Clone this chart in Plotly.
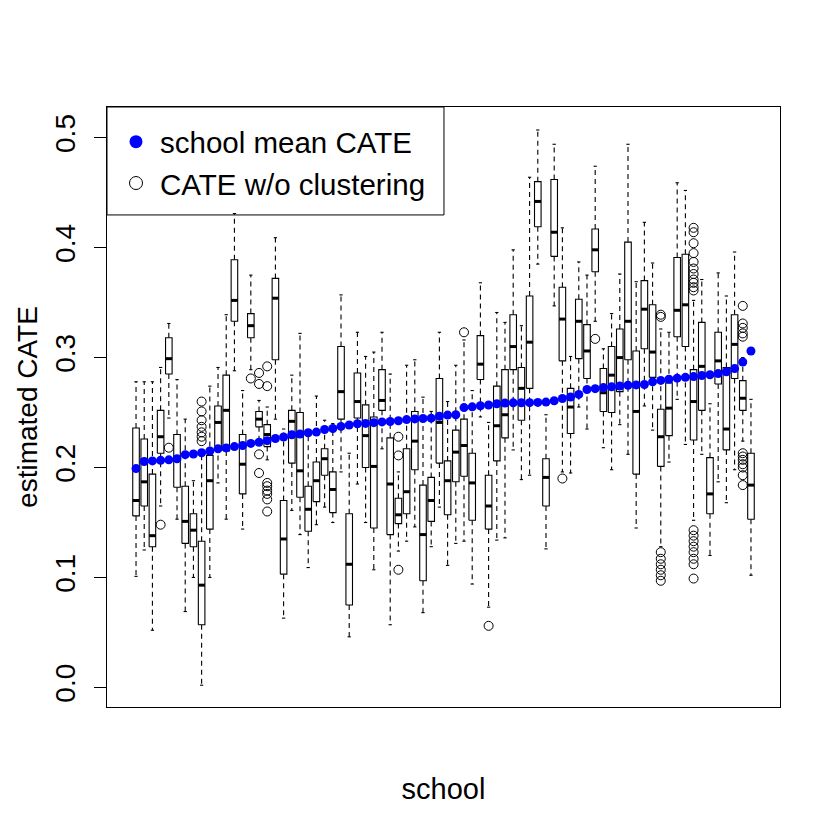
import plotly.graph_objects as go

# ---- data ----
school_ids = list(range(1, 77))

whisker_low = [0.101, 0.125, 0.052, 0.165, 0.245, 0.153, 0.069, 0.100, 0.002, 0.100,
               0.186, 0.153, 0.288, 0.144, 0.289, 0.225, 0.207, 0.244, 0.063, 0.161,
               0.139, 0.109, 0.148, 0.164, 0.150, 0.196, 0.046, 0.185, 0.150, 0.107,
               0.217, 0.057, 0.124, 0.133, 0.146, 0.068, 0.128, 0.164, 0.111, 0.131,
               0.133, 0.094, 0.246, 0.073, 0.134, 0.136, 0.216, 0.189, 0.193, 0.385,
               0.126, 0.347, 0.196, 0.195, 0.255, 0.235, 0.333, 0.218, 0.198, 0.239,
               0.212, 0.145, 0.256, 0.234, 0.128, 0.205, 0.262, 0.221, 0.152, 0.212,
               0.120, 0.187, 0.168, 0.198, 0.224, 0.102]
q1 = [0.156, 0.165, 0.128, 0.213, 0.285, 0.182, 0.131, 0.128, 0.057, 0.144,
      0.219, 0.215, 0.333, 0.176, 0.318, 0.237, 0.219, 0.298, 0.103, 0.204,
      0.173, 0.142, 0.169, 0.193, 0.159, 0.244, 0.075, 0.245, 0.200, 0.145,
      0.252, 0.139, 0.149, 0.158, 0.198, 0.097, 0.151, 0.204, 0.157, 0.187,
      0.192, 0.152, 0.280, 0.144, 0.206, 0.227, 0.289, 0.243, 0.272, 0.419,
      0.165, 0.392, 0.297, 0.231, 0.299, 0.281, 0.378, 0.251, 0.250, 0.269,
      0.298, 0.194, 0.308, 0.282, 0.201, 0.229, 0.319, 0.310, 0.225, 0.252,
      0.158, 0.276, 0.216, 0.281, 0.252, 0.153]
median = [0.170, 0.187, 0.138, 0.228, 0.299, 0.208, 0.151, 0.143, 0.093, 0.188,
          0.241, 0.252, 0.352, 0.203, 0.329, 0.244, 0.230, 0.354, 0.135, 0.242,
          0.197, 0.162, 0.188, 0.208, 0.180, 0.269, 0.112, 0.260, 0.229, 0.201,
          0.261, 0.185, 0.157, 0.178, 0.224, 0.139, 0.170, 0.241, 0.188, 0.214,
          0.220, 0.186, 0.294, 0.165, 0.238, 0.248, 0.310, 0.272, 0.314, 0.442,
          0.191, 0.414, 0.335, 0.255, 0.333, 0.306, 0.398, 0.268, 0.284, 0.300,
          0.333, 0.251, 0.344, 0.305, 0.228, 0.254, 0.343, 0.348, 0.260, 0.292,
          0.176, 0.297, 0.235, 0.312, 0.263, 0.184]
q3 = [0.236, 0.226, 0.194, 0.252, 0.318, 0.230, 0.183, 0.158, 0.133, 0.211,
      0.256, 0.284, 0.389, 0.230, 0.340, 0.251, 0.239, 0.372, 0.170, 0.252,
      0.250, 0.183, 0.205, 0.217, 0.196, 0.310, 0.158, 0.286, 0.257, 0.246,
      0.289, 0.227, 0.172, 0.217, 0.251, 0.184, 0.191, 0.281, 0.206, 0.234,
      0.244, 0.213, 0.320, 0.193, 0.274, 0.289, 0.339, 0.291, 0.356, 0.460,
      0.208, 0.462, 0.364, 0.272, 0.353, 0.330, 0.417, 0.290, 0.310, 0.326,
      0.405, 0.306, 0.370, 0.348, 0.253, 0.277, 0.391, 0.394, 0.289, 0.332,
      0.209, 0.323, 0.291, 0.339, 0.279, 0.213]
whisker_high = [0.278, 0.278, 0.278, 0.291, 0.331, 0.280, 0.244, 0.188, 0.212, 0.274,
                0.291, 0.339, 0.431, 0.270, 0.375, 0.261, 0.255, 0.409, 0.235, 0.284,
                0.322, 0.230, 0.265, 0.243, 0.240, 0.357, 0.213, 0.323, 0.301, 0.305,
                0.323, 0.285, 0.196, 0.293, 0.298, 0.264, 0.251, 0.323, 0.260, 0.293,
                0.316, 0.270, 0.368, 0.241, 0.341, 0.332, 0.398, 0.329, 0.464, 0.507,
                0.248, 0.494, 0.418, 0.301, 0.387, 0.375, 0.474, 0.308, 0.340, 0.376,
                0.494, 0.369, 0.423, 0.386, 0.326, 0.323, 0.459, 0.452, 0.352, 0.371,
                0.258, 0.377, 0.356, 0.396, 0.300, 0.262]

# outliers ("CATE w/o clustering" beyond the whiskers), keyed by school position
outliers = {
    4: [0.148],
    5: [0.218],
    9: [0.224, 0.228, 0.232, 0.237, 0.243, 0.251, 0.260],
    15: [0.281],
    16: [0.286, 0.276, 0.212, 0.195],
    17: [0.292, 0.274, 0.186, 0.183, 0.179, 0.176, 0.171, 0.160],
    33: [0.228, 0.211, 0.107],
    41: [0.323],
    44: [0.056],
    53: [0.190],
    57: [0.317],
    65: [0.337, 0.339, 0.123, 0.117, 0.112, 0.107, 0.102, 0.097],
    69: [0.418, 0.414, 0.404, 0.395, 0.387, 0.381, 0.376, 0.371, 0.368, 0.364, 0.361,
         0.143, 0.138, 0.133, 0.128, 0.123, 0.117, 0.112, 0.099],
    75: [0.347, 0.331, 0.327, 0.322, 0.319, 0.213, 0.210, 0.207, 0.203, 0.200, 0.193, 0.184],
}

school_mean = [0.199, 0.2055, 0.206, 0.2065, 0.207, 0.208, 0.2117, 0.2123, 0.2134, 0.215,
               0.217, 0.2178, 0.219, 0.220, 0.2219, 0.223, 0.2244, 0.2264, 0.2278, 0.2298,
               0.2305, 0.2316, 0.2322, 0.2346, 0.2355, 0.2374, 0.2387, 0.2398, 0.2401, 0.2408,
               0.2415, 0.2419, 0.2425, 0.2436, 0.2442, 0.2446, 0.2449, 0.2466, 0.2477, 0.2480,
               0.2545, 0.2552, 0.2562, 0.2569, 0.2580, 0.2586, 0.2588, 0.2589, 0.2590, 0.2592,
               0.2595, 0.2607, 0.2628, 0.2641, 0.2665, 0.2710, 0.2717, 0.2727, 0.2734, 0.2741,
               0.2748, 0.2751, 0.2755, 0.2779, 0.2792, 0.2803, 0.2813, 0.2820, 0.2827, 0.2837,
               0.2844, 0.2854, 0.2870, 0.2900, 0.2960, 0.3060]

y_ticks = [0.0, 0.1, 0.2, 0.3, 0.4, 0.5]
y_tick_labels = ["0.0", "0.1", "0.2", "0.3", "0.4", "0.5"]

# ---- styling ----
FONT = "Liberation Sans, Arial, Helvetica, sans-serif"
HALF_BOX = 0.4      # boxwex 0.8
HALF_CAP = 0.2      # staplewex 0.5
n = len(school_ids)

# build geometry from the data arrays
wx, wy, cx, cy, bx, by, mx, my = [], [], [], [], [], [], [], []
ox, oy = [], []
for i, s in enumerate(school_ids):
    wx += [s, s, None, s, s, None]
    wy += [q3[i], whisker_high[i], None, q1[i], whisker_low[i], None]
    cx += [s - HALF_CAP, s + HALF_CAP, None, s - HALF_CAP, s + HALF_CAP, None]
    cy += [whisker_high[i], whisker_high[i], None, whisker_low[i], whisker_low[i], None]
    bx += [s - HALF_BOX, s + HALF_BOX, s + HALF_BOX, s - HALF_BOX, s - HALF_BOX, None]
    by += [q1[i], q1[i], q3[i], q3[i], q1[i], None]
    mx += [s - HALF_BOX, s + HALF_BOX, None]
    my += [median[i], median[i], None]
    for v in outliers.get(s, []):
        ox.append(s)
        oy.append(v)

fig = go.Figure()
fig.add_trace(go.Scatter(x=wx, y=wy, mode="lines", showlegend=False, hoverinfo="skip",
                         line=dict(color="black", width=1.1, dash="5px,4px")))
fig.add_trace(go.Scatter(x=cx, y=cy, mode="lines", showlegend=False, hoverinfo="skip",
                         line=dict(color="black", width=1.1)))
fig.add_trace(go.Scatter(x=bx, y=by, mode="lines", fill="toself", fillcolor="white",
                         showlegend=False, hoverinfo="skip",
                         line=dict(color="black", width=1.1)))
fig.add_trace(go.Scatter(x=mx, y=my, mode="lines", showlegend=False, hoverinfo="skip",
                         line=dict(color="black", width=3)))
fig.add_trace(go.Scatter(x=ox, y=oy, mode="markers", showlegend=False,
                         marker=dict(symbol="circle-open", size=9, color="black",
                                     line=dict(width=1))))
fig.add_trace(go.Scatter(x=school_ids, y=school_mean, mode="markers", showlegend=False,
                         marker=dict(symbol="circle", size=9, color="#0000FF")))
# legend entries
fig.add_trace(go.Scatter(x=[None], y=[None], mode="markers", name="school mean CATE",
                         marker=dict(symbol="circle", size=13, color="#0000FF")))
fig.add_trace(go.Scatter(x=[None], y=[None], mode="markers", name="CATE w/o clustering",
                         marker=dict(symbol="circle-open", size=13, color="black",
                                     line=dict(width=1))))

pad = 0.04 * n
# the page body adds an 8px offset; margins compensate for it
fig.update_layout(
    width=832, height=832,
    margin=dict(l=99, r=60, t=99, b=133),
    paper_bgcolor="white", plot_bgcolor="white",
    font=dict(family=FONT, size=28, color="black"),
    showlegend=True,
    legend=dict(x=0.0, y=0.985, xanchor="left", yanchor="top",
                bgcolor="rgba(0,0,0,0)", borderwidth=0,
                font=dict(family=FONT, size=29.5, color="black"),
                indentation=5, itemwidth=38, itemsizing="trace", tracegroupgap=0),
    shapes=[dict(type="rect", xref="paper", yref="paper", x0=0, x1=0.5007,
                 y0=0.8201, y1=1, line=dict(color="black", width=1),
                 fillcolor="rgba(0,0,0,0)", layer="above")],
)
fig.update_xaxes(range=[0.5 - pad, n + 0.5 + pad], showticklabels=False, ticks="",
                 showgrid=False, zeroline=False, showline=True, mirror=True,
                 linecolor="black", linewidth=1,
                 title=dict(text="school", font=dict(family=FONT, size=29), standoff=71))
fig.update_yaxes(range=[-0.01782, 0.5279], tickvals=y_ticks, ticktext=y_tick_labels,
                 ticks="outside", ticklen=12, tickwidth=1, tickcolor="black",
                 tickangle=-90, tickfont=dict(family=FONT, size=28),
                 ticklabelstandoff=8,
                 showgrid=False, zeroline=False, showline=True, mirror=True,
                 linecolor="black", linewidth=1,
                 title=dict(text="estimated CATE", font=dict(family=FONT, size=28), standoff=3))

fig.write_html("out.html")
